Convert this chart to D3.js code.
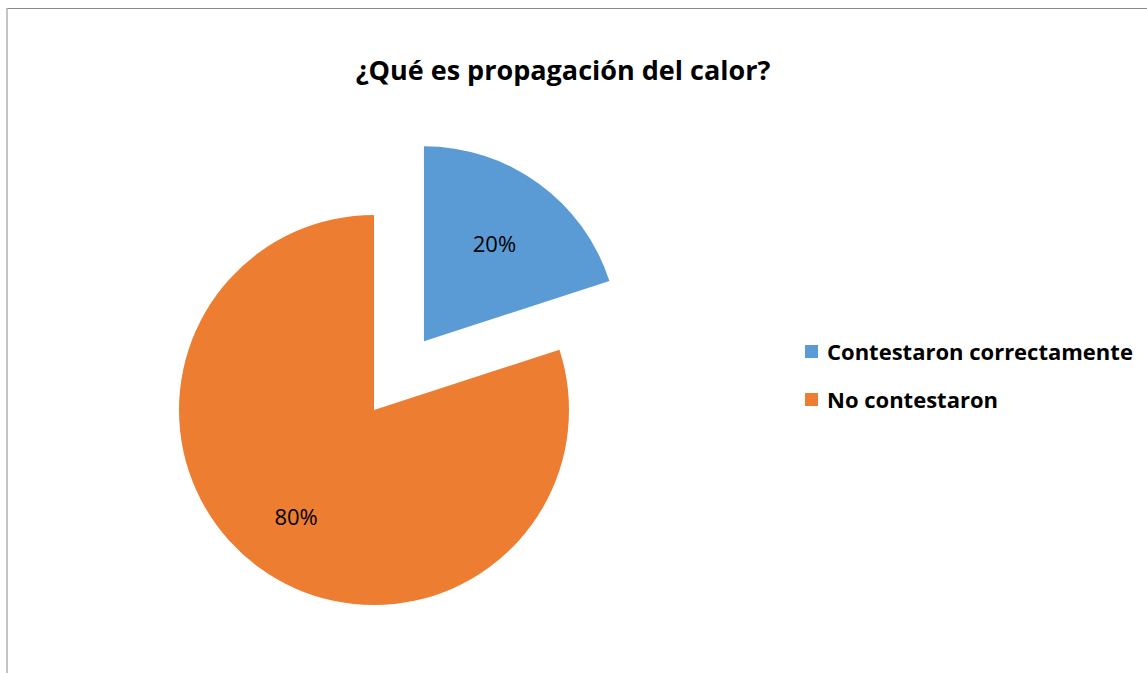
<!DOCTYPE html>
<html>
<head>
<meta charset="utf-8">
<script src="https://cdn.jsdelivr.net/npm/d3@7"></script>
<style>
  body { margin: 0; background: #fff; }
  svg { display: block; }
</style>
</head>
<body>
<svg id="chart" width="1147" height="673"></svg>
<script>
// data
var categories = ["Contestaron correctamente", "No contestaron"];
var values = [20, 80];
var colors = ["#5b9bd5", "#ed7d31"];
var explode = [85, 0];
var labelPos = [0.615, 0.68];
var title = "¿Qué es propagación del calor?";

var width = 1147, height = 673;
var svg = d3.select("#chart");

// frame
svg.append("line").attr("x1", 7).attr("x2", width).attr("y1", 8.5).attr("y2", 8.5)
  .attr("stroke", "#8a8a8a").attr("stroke-width", 1.2);
svg.append("line").attr("x1", 7).attr("x2", 7).attr("y1", 8).attr("y2", height)
  .attr("stroke", "#b0b0b0").attr("stroke-width", 1.5);

svg.append("text")
  .attr("x", 563).attr("y", 80)
  .attr("text-anchor", "middle")
  .attr("font-family", "'Open Sans', sans-serif")
  .attr("font-weight", "bold")
  .attr("font-size", 27)
  .attr("fill", "#000")
  .text(title);

var radius = 195;
var cx = 374, cy = 410;

var pie = d3.pie().sort(null).value(function(d) { return d; });
var arcs = pie(values);
var arc = d3.arc().innerRadius(0).outerRadius(radius);

var g = svg.append("g").attr("transform", "translate(" + cx + "," + cy + ")");

var slice = g.selectAll("g.slice")
  .data(arcs)
  .enter()
  .append("g")
  .attr("class", "slice")
  .attr("transform", function(d, i) {
    var a = (d.startAngle + d.endAngle) / 2;
    return "translate(" + (Math.sin(a) * explode[i]) + "," + (-Math.cos(a) * explode[i]) + ")";
  });

slice.append("path")
  .attr("d", arc)
  .attr("fill", function(d, i) { return colors[i]; });

slice.append("text")
  .attr("transform", function(d, i) {
    var r = radius * labelPos[i];
    var c = d3.arc().innerRadius(r).outerRadius(r).centroid(d);
    return "translate(" + c + ")";
  })
  .attr("dy", "0.35em")
  .attr("text-anchor", "middle")
  .attr("font-family", "'Open Sans', sans-serif")
  .attr("font-size", 22)
  .attr("fill", "#000")
  .text(function(d, i) { return values[i] + "%"; });

// legend
var legend = svg.append("g").attr("transform", "translate(805,352)");
var item = legend.selectAll("g")
  .data(categories)
  .enter()
  .append("g")
  .attr("transform", function(d, i) { return "translate(0," + (i * 48) + ")"; });

item.append("rect")
  .attr("x", 0).attr("y", -7)
  .attr("width", 13).attr("height", 13)
  .attr("fill", function(d, i) { return colors[i]; });

item.append("text")
  .attr("x", 22).attr("y", 0)
  .attr("dy", "0.35em")
  .attr("font-family", "'Open Sans', sans-serif")
  .attr("font-weight", "bold")
  .attr("font-size", 22)
  .attr("fill", "#000")
  .text(function(d) { return d; });
</script>
</body>
</html>
